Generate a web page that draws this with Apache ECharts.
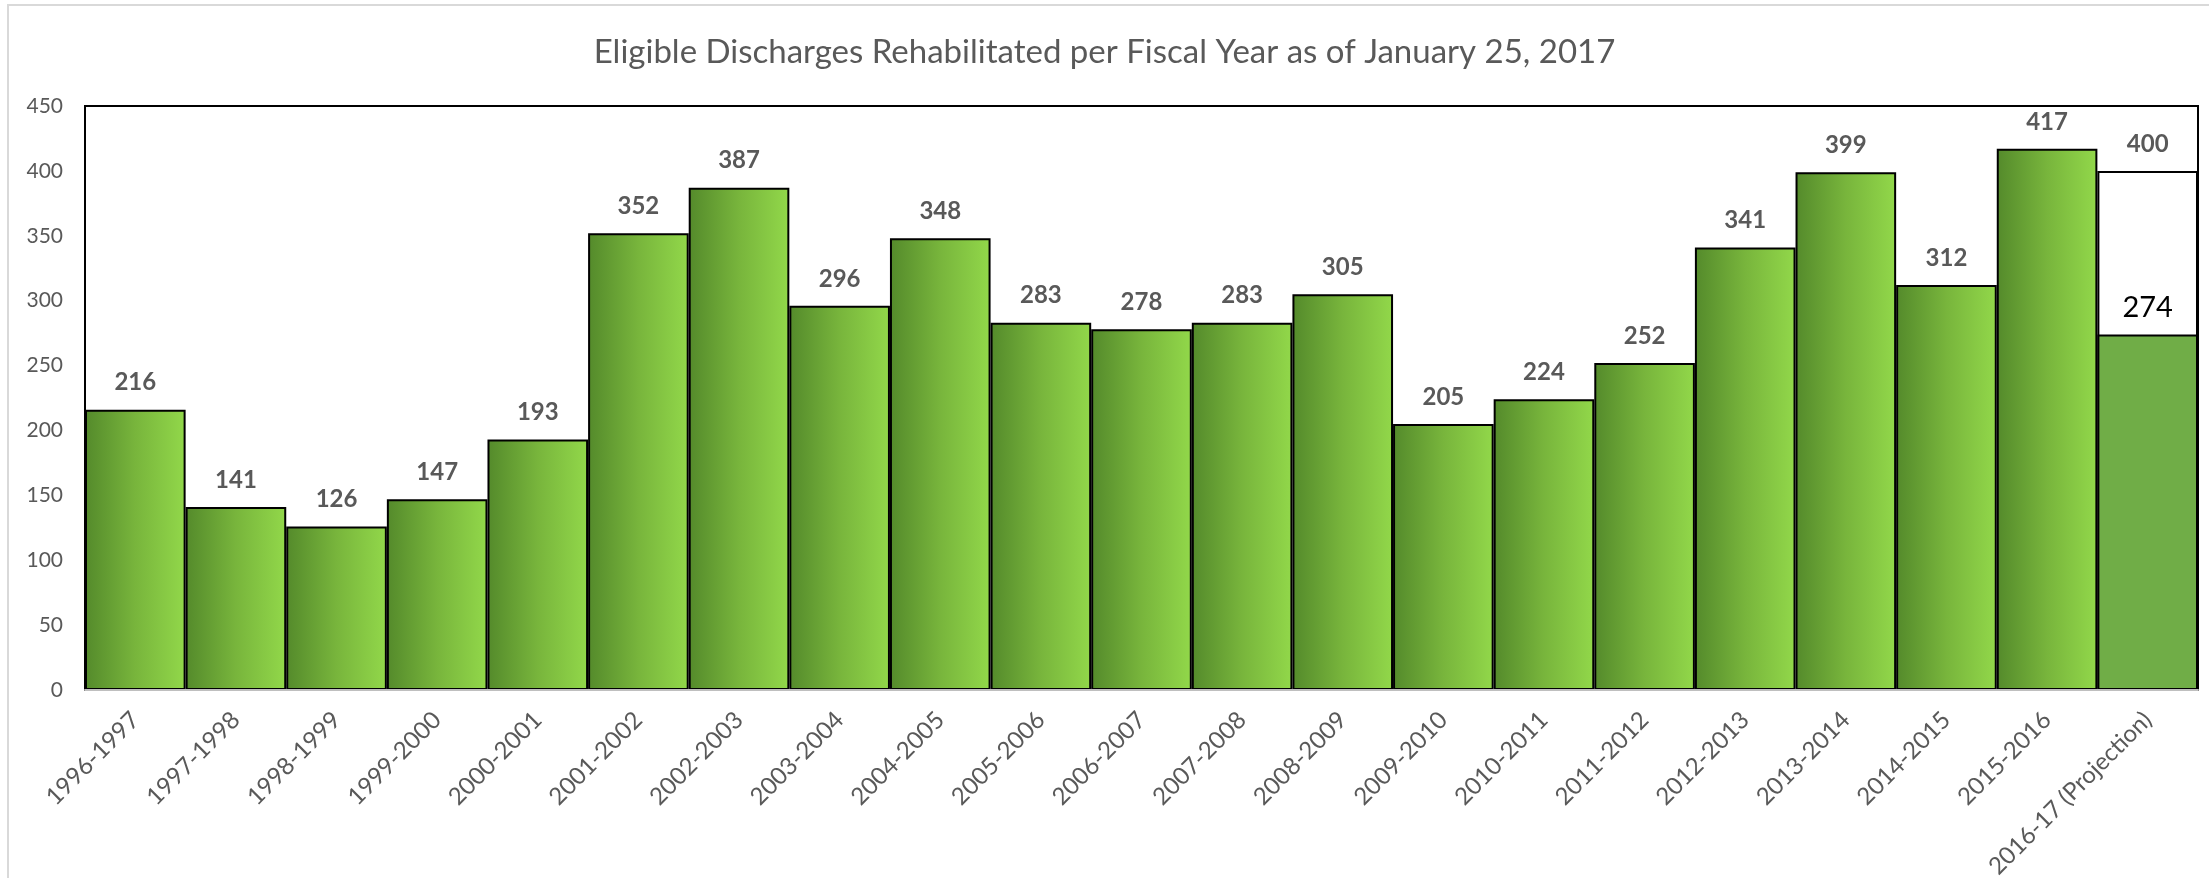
<!DOCTYPE html>
<html>
<head>
<meta charset="utf-8">
<script src="https://cdn.jsdelivr.net/npm/echarts@6/dist/echarts.min.js"></script>
<style>
  html, body { margin: 0; padding: 0; background: #fff; }
  #main { width: 2209px; height: 878px; }
</style>
</head>
<body>
<div id="main"></div>
<script>
// 数据
var years = ["1996-1997", "1997-1998", "1998-1999", "1999-2000", "2000-2001", "2001-2002", "2002-2003",
  "2003-2004", "2004-2005", "2005-2006", "2006-2007", "2007-2008", "2008-2009", "2009-2010",
  "2010-2011", "2011-2012", "2012-2013", "2013-2014", "2014-2015", "2015-2016", "2016-17 (Projection)"];
var discharges = [216, 141, 126, 147, 193, 352, 387, 296, 348, 283, 278, 283, 305, 205, 224, 252, 341, 399, 312, 417, 274];
var projection = [null, null, null, null, null, null, null, null, null, null, null, null, null, null,
  null, null, null, null, null, null, 400];
var yTicks = [0, 50, 100, 150, 200, 250, 300, 350, 400, 450];

(function () {
  var myChart = echarts.init(document.getElementById("main"));
  var lastIdx = discharges.length - 1;
  // 渐变柱子
  var barGrad = new echarts.graphic.LinearGradient(0, 0, 1, 0, [
    { offset: 0, color: "#548a2b" },
    { offset: 0.5, color: "#78b53c" },
    { offset: 1, color: "#92d84a" }
  ]);
  var actualData = discharges.map(function (v, i) {
    if (i === lastIdx) {
      return {
        value: v,
        itemStyle: { color: "#70ad47" },
        label: { color: "#000", fontWeight: "normal", fontSize: 29, distance: 12 }
      };
    }
    return v;
  });
  var option = {
    animation: false,
    textStyle: { fontFamily: "Lato, 'Open Sans', sans-serif" },
    title: {
      text: "Eligible Discharges Rehabilitated per Fiscal Year as of January 25, 2017",
      left: "center",
      top: 31,
      textStyle: { color: "#595959", fontSize: 33, fontWeight: "normal", fontFamily: "Lato, sans-serif" }
    },
    graphic: [{
      type: "rect",
      shape: { x: 8, y: 5, width: 2220, height: 900 },
      style: { fill: "none", stroke: "#d9d9d9", lineWidth: 2 },
      silent: true
    }],
    grid: {
      left: 85,
      right: 11,
      top: 106,
      bottom: 188,
      outerBoundsMode: "none",
      show: true,
      borderColor: "#000",
      borderWidth: 2
    },
    xAxis: {
      type: "category",
      data: years,
      axisTick: { show: false },
      axisLine: { lineStyle: { color: "#bfbfbf", width: 2 } },
      axisLabel: {
        rotate: 45,
        interval: 0,
        color: "#595959",
        fontSize: 24,
        margin: 26
      },
      z: 5
    },
    yAxis: {
      type: "value",
      min: yTicks[0],
      max: yTicks[yTicks.length - 1],
      interval: 50,
      axisLine: { show: false },
      axisTick: { show: false },
      splitLine: { show: false },
      axisLabel: { color: "#595959", fontSize: 21, margin: 22 }
    },
    series: [
      {
        name: "Projection",
        type: "bar",
        data: projection,
        barGap: "-100%",
        barCategoryGap: "0%",
        itemStyle: { color: "#fff", borderColor: "#000", borderWidth: 2 },
        label: {
          show: true,
          position: "top",
          distance: 15,
          color: "#595959",
          fontWeight: "bold",
          fontSize: 24
        }
      },
      {
        name: "Discharges",
        type: "bar",
        data: actualData,
        barGap: "-100%",
        barCategoryGap: "0%",
        itemStyle: { color: barGrad, borderColor: "#000", borderWidth: 2 },
        label: {
          show: true,
          position: "top",
          distance: 15,
          color: "#595959",
          fontWeight: "bold",
          fontSize: 24
        }
      }
    ]
  };
  myChart.setOption(option);
  window.addEventListener("resize", function () {
    myChart.resize();
  });
})();
</script>
</body>
</html>
